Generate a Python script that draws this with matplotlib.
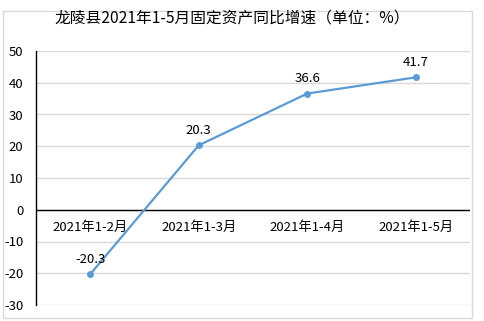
import matplotlib
matplotlib.use("Agg")
import matplotlib.pyplot as plt
from matplotlib.patches import Rectangle

plt.rcParams['font.family'] = ['Noto Sans CJK SC', 'DejaVu Sans']

title = "龙陵县2021年1-5月固定资产同比增速（单位：%）"
categories = ["2021年1-2月", "2021年1-3月", "2021年1-4月", "2021年1-5月"]
values = [-20.3, 20.3, 36.6, 41.7]
yticks = [50, 40, 30, 20, 10, 0, -10, -20, -30]

W, H = 485, 321
fig = plt.figure(figsize=(W / 100, H / 100), dpi=100)
fig.patch.set_facecolor("white")
fig.patches.append(Rectangle((3 / W, 3 / H), 1 - 16 / W, 1 - 14 / H, transform=fig.transFigure,
                             fill=False, edgecolor="#D9D9D9", linewidth=1))

ax = fig.add_axes([36 / W, 1 - 305 / H, (470 - 36) / W, (305 - 51) / H])
x = list(range(len(categories)))
ax.plot(x, values, color="#5B9BD5", linewidth=1.6, marker="o", markersize=4,
        markerfacecolor="#5B9BD5", markeredgecolor="#5B9BD5", zorder=3)
for xi, v in zip(x, values):
    ax.annotate(f"{v:.1f}", (xi, v), xytext=(0, 6), textcoords="offset points",
                ha="center", va="bottom", fontsize=9.5, color="black")

ax.set_xlim(-0.5, len(categories) - 0.5)
ax.set_ylim(min(yticks), max(yticks))
ax.set_yticks(yticks)
ax.set_yticklabels([str(t) for t in yticks], fontsize=9.5)
ax.tick_params(axis="y", length=0, pad=9)
ax.set_xticks([])
ax.grid(axis="y", color="#D9D9D9", linewidth=1)
ax.set_axisbelow(True)
for s in ["top", "right", "bottom"]:
    ax.spines[s].set_visible(False)
ax.spines["left"].set_color("black")
ax.spines["left"].set_linewidth(1)
ax.axhline(0, color="black", linewidth=1, zorder=2)

for xi, c in zip(x, categories):
    ax.annotate(c, (xi, 0), xytext=(0, -8), textcoords="offset points",
                ha="center", va="top", fontsize=9.5, color="black")

fig.text(232 / W, 1 - 18 / H, title, ha="center", va="center", fontsize=11.3)

fig.savefig("out.png", dpi=100, facecolor="white")
